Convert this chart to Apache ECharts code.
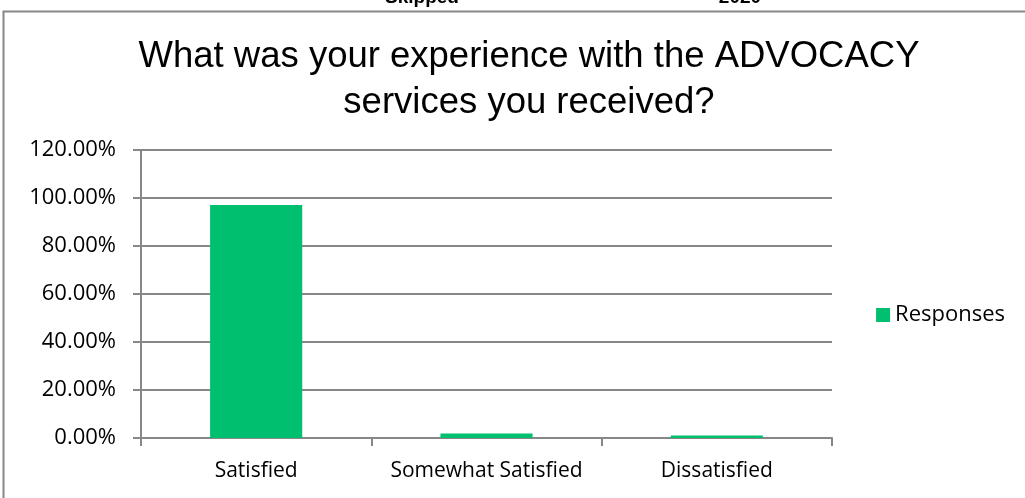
<!DOCTYPE html>
<html>
<head>
<meta charset="utf-8">
<script src="https://cdn.jsdelivr.net/npm/echarts@6/dist/echarts.min.js"></script>
<style>
  html, body { margin: 0; padding: 0; background: #fff; }
  #chart { width: 1025px; height: 498px; }
</style>
</head>
<body>
<div id="chart"></div>
<script>
// Survey answers and share of responses (percent)
const categories = ['Satisfied', 'Somewhat Satisfied', 'Dissatisfied'];
const responses = [97.1, 1.9, 1.0];
const seriesName = 'Responses';
const yTicks = [0, 20, 40, 60, 80, 100, 120];
const titleLines = ['What was your experience with the ADVOCACY', 'services you received?'];
const headerCells = ['Skipped', '2020'];

const chart = echarts.init(document.getElementById('chart'), null, { renderer: 'canvas' });
const gray = '#878787';
const green = '#00BF6F';
const labelFont = '"Open Sans", "Noto Sans", sans-serif';

chart.setOption({
  animation: false,
  backgroundColor: '#fff',
  graphic: [
    // outer chart frame
    { type: 'rect', shape: { x: 3.5, y: 11.5, width: 1100, height: 600 },
      style: { fill: 'none', stroke: gray, lineWidth: 2 }, silent: true },
    // header row partly above the frame
    { type: 'text', x: 422, y: 7, style: { text: headerCells[0], fill: '#000',
      font: 'bold 19px "Liberation Sans", Arial, sans-serif', textAlign: 'center', textVerticalAlign: 'bottom' } },
    { type: 'text', x: 740, y: 7, style: { text: headerCells[1], fill: '#000',
      font: 'bold 19px "Liberation Sans", Arial, sans-serif', textAlign: 'center', textVerticalAlign: 'bottom' } },
    // chart title
    { type: 'text', x: 529, y: 75, style: { text: titleLines[0], fill: '#000',
      font: '36.5px "Liberation Sans", Arial, sans-serif', textAlign: 'center', textVerticalAlign: 'bottom' } },
    { type: 'text', x: 529, y: 121, style: { text: titleLines[1], fill: '#000',
      font: '36.5px "Liberation Sans", Arial, sans-serif', textAlign: 'center', textVerticalAlign: 'bottom' } }
  ],
  legend: {
    data: [seriesName],
    right: 15,
    top: 299,
    orient: 'vertical',
    icon: 'rect',
    itemWidth: 14,
    itemHeight: 14,
    itemGap: 6,
    textStyle: { fontSize: 22, color: '#000', fontFamily: labelFont }
  },
  grid: { left: 141, right: 193, top: 150, bottom: 60, containLabel: false },
  xAxis: {
    type: 'category',
    data: categories,
    boundaryGap: true,
    axisLine: { show: true, lineStyle: { color: gray, width: 2 } },
    axisTick: { show: true, alignWithLabel: false, length: 8, lineStyle: { color: gray, width: 2 } },
    axisLabel: { color: '#000', fontSize: 21, fontFamily: labelFont, margin: 23,
      interval: 0, hideOverlap: false }
  },
  yAxis: {
    type: 'value',
    min: yTicks[0],
    max: yTicks[yTicks.length - 1],
    interval: yTicks[1] - yTicks[0],
    axisLine: { show: true, lineStyle: { color: gray, width: 2 } },
    axisTick: { show: true, length: 8, lineStyle: { color: gray, width: 2 } },
    splitLine: { show: true, lineStyle: { color: gray, width: 2 } },
    axisLabel: {
      color: '#000', fontSize: 22, fontFamily: labelFont, margin: 25,
      formatter: v => v.toFixed(2) + '%'
    }
  },
  series: [{
    name: seriesName,
    type: 'bar',
    data: responses,
    barWidth: '40%',
    itemStyle: { color: green }
  }]
});
</script>
</body>
</html>
